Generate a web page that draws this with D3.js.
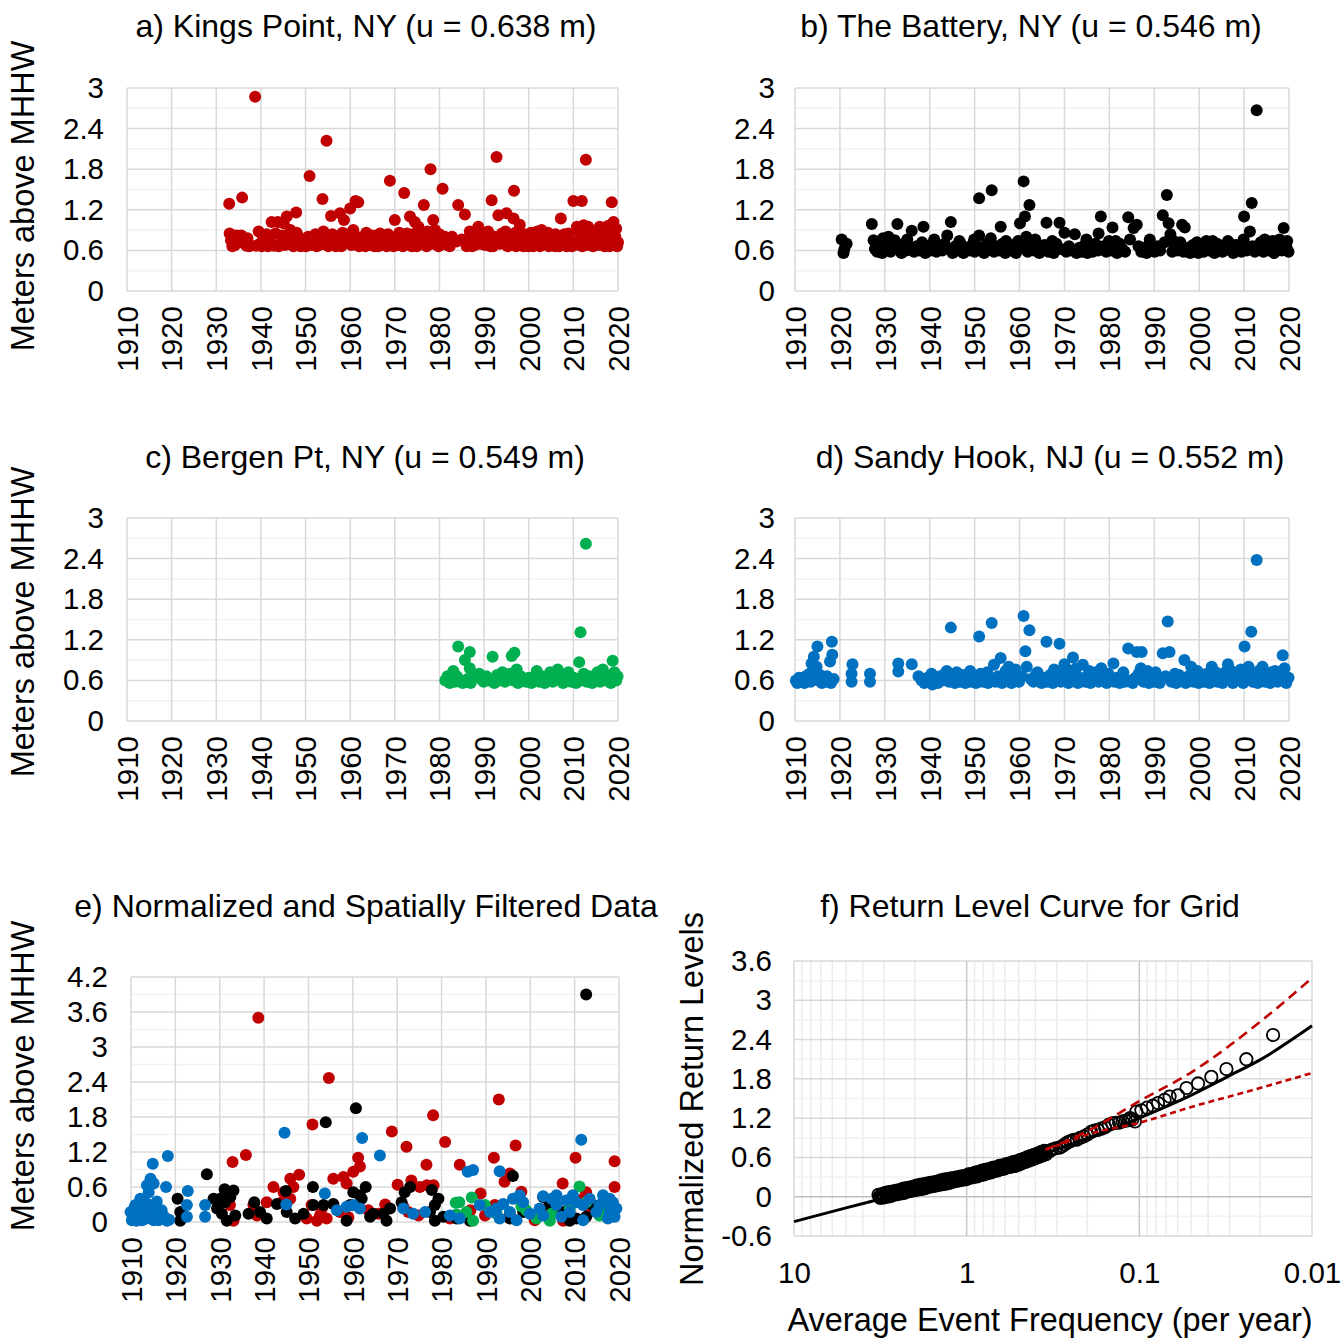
<!DOCTYPE html>
<html><head><meta charset="utf-8">
<script src="https://cdn.jsdelivr.net/npm/d3@7"></script>
<style>
body{margin:0;background:#fff}
svg{display:block}
text{font-family:"Liberation Sans",Arial,Helvetica,sans-serif;fill:#000}
.tick text{font-size:29.5px}
.ttl{font-size:32px}
.axt{font-size:32.5px}
</style>
</head><body>
<svg id="chart" width="1343" height="1338"></svg>
<script>
// ---------------- tick labels ----------------
const yearTicks = [1910,1920,1930,1940,1950,1960,1970,1980,1990,2000,2010,2020];
const meterTicks = [0,0.6,1.2,1.8,2.4,3];
const meterMinor = [0.3,0.9,1.5,2.1,2.7];
const normTicks = [0,0.6,1.2,1.8,2.4,3,3.6,4.2];
const normMinor = [0.3,0.9,1.5,2.1,2.7,3.3,3.9];
const rlTicks = [-0.6,0,0.6,1.2,1.8,2.4,3,3.6];
const rlMinor = [-0.3,0.3,0.9,1.5,2.1,2.7,3.3];
const freqTicks = [10,1,0.1,0.01];

// ---------------- a) Kings Point (year, m above MHHW) ----------------
const kingsPoint = [
[1933.0,0.85],[1932.9,1.29],[1933.3,0.75],[1933.6,0.66],[1933.9,0.70],[1934.2,0.68],
[1935.8,1.38],[1935.6,0.82],[1936.3,0.70],[1936.8,0.67],[1937.4,0.66],
[1938.7,2.87],[1939.5,0.88],[1940.5,0.80],[1938.9,0.67],[1940.2,0.66],[1941.0,0.72],[1939.8,0.70],[1941.6,0.66],
[1942.4,1.02],[1943.8,1.02],[1943.3,0.85],[1944.5,0.71],[1942.9,0.67],[1944.0,0.66],[1942.0,0.78],
[1945.8,1.10],[1945.1,1.00],[1946.6,0.90],[1946.2,0.70],[1947.3,0.66],[1945.4,0.68],[1946.9,0.78],
[1947.9,1.16],[1948.4,0.80],[1948.9,0.66],[1949.6,0.70],[1949.1,0.75],[1950.1,0.66],
[1950.9,1.70],[1950.6,0.80],[1951.4,0.68],[1952.5,0.66],[1952.0,0.72],[1951.8,0.74],[1953.0,0.68],
[1953.8,1.36],[1954.7,2.22],[1953.4,0.80],[1954.4,0.70],[1955.1,0.66],[1955.7,1.11],[1955.6,0.74],
[1956.3,0.70],[1957.0,0.80],[1957.7,1.15],[1958.6,1.05],[1958.0,0.66],[1959.0,0.72],[1956.8,0.66],[1957.5,0.72],[1959.4,0.78],
[1960.0,1.22],[1961.2,1.33],[1961.8,1.31],[1960.7,0.90],[1961.5,0.80],[1962.0,0.66],[1962.8,0.70],[1960.3,0.68],[1962.4,0.76],
[1963.0,0.80],[1963.8,0.70],[1964.6,0.75],[1965.4,0.66],[1963.4,0.66],[1964.2,0.68],[1965.9,0.72],
[1966.7,0.85],[1967.4,0.75],[1968.2,0.66],[1966.3,0.66],[1967.0,0.70],[1967.9,0.78],
[1968.9,1.63],[1970.0,1.05],[1970.4,0.80],[1969.7,0.66],[1971.3,0.75],[1969.2,0.72],[1970.8,0.68],
[1972.1,1.45],[1972.7,0.85],[1973.4,1.10],[1973.8,0.66],[1974.2,0.75],[1971.8,0.66],[1972.4,0.70],[1973.1,0.78],
[1974.5,1.02],[1975.3,0.95],[1976.0,0.80],[1976.5,1.27],[1977.1,0.66],[1974.9,0.66],[1975.7,0.72],[1976.8,0.70],
[1978.0,1.80],[1978.6,1.05],[1979.0,0.90],[1978.3,0.70],[1979.4,0.75],[1977.6,0.78],[1979.8,0.66],
[1980.7,1.51],[1981.2,0.80],[1982.3,0.66],[1980.3,0.70],[1981.7,0.68],
[1983.8,0.73],[1984.2,1.27],[1985.7,1.13],[1986.1,0.66],
[1986.8,0.88],[1988.7,0.95],[1989.1,0.70],[1988.0,0.75],[1986.4,0.72],[1987.3,0.66],[1987.9,0.68],
[1990.6,0.80],[1991.4,0.66],[1991.7,1.34],[1989.8,0.74],[1990.2,0.68],[1991.0,0.72],
[1992.8,1.98],[1993.2,1.12],[1992.4,0.80],[1993.6,0.70],[1994.0,0.85],[1992.0,0.66],[1994.4,0.72],
[1995.0,1.15],[1996.6,1.07],[1996.7,1.48],[1995.8,0.75],[1997.2,0.66],[1995.3,0.66],[1996.2,0.72],[1997.7,0.78],
[1998.0,0.98],[1998.4,0.80],[1999.2,0.70],[1999.9,0.66],[1998.8,0.66],[1999.6,0.76],
[2000.3,0.72],[2000.8,0.78],[2001.0,0.66],[2001.6,0.72],[2002.1,0.80],[2002.5,0.66],[2002.9,0.90],[2003.3,0.70],[2003.8,0.78],
[2004.0,0.70],[2004.5,0.66],[2004.9,0.74],[2005.2,0.80],[2005.6,0.70],[2005.9,0.66],[2006.3,0.72],[2006.8,0.66],
[2007.2,1.07],[2007.0,0.80],[2007.5,0.74],[2007.8,0.70],[2008.2,0.78],[2008.5,0.66],[2008.9,0.85],[2009.3,0.72],[2009.7,0.66],
[2010.0,1.33],[2011.9,1.33],[2010.4,0.68],[2010.8,0.95],[2011.1,0.70],[2011.5,0.76],[2012.0,0.66],[2012.3,0.97],[2012.8,1.94],
[2013.0,0.68],[2013.3,0.95],[2013.7,0.75],[2014.0,0.80],[2014.4,0.66],[2014.8,0.72],[2015.2,0.80],[2015.6,0.68],
[2015.9,0.95],[2016.3,0.78],[2016.7,0.70],[2017.0,0.66],[2017.3,0.80],[2017.7,0.96],[2018.1,0.66],[2018.4,0.74],
[2018.6,1.31],[2019.0,1.02],[2019.2,0.70],[2019.4,0.80],[2019.8,0.66],[2020.0,0.72],
[1934.6,0.82],[1937.0,0.78],[1941.3,0.84],[1944.8,0.82],[1948.0,0.86],[1952.2,0.84],[1954.0,0.88],[1956.0,0.84],[1958.3,0.86],[1959.7,0.84],[1963.6,0.86],[1965.0,0.82],[1968.5,0.84],[1971.0,0.86],[1974.0,0.84],[1975.0,0.82],[1977.3,0.88],[1980.0,0.84],[1982.8,0.80],[1985.0,0.76],[1987.6,0.84],[1989.4,0.86],[1990.9,0.88],[1993.9,0.78],[1994.8,0.88],[1997.0,0.86],[1999.0,0.84],[2000.5,0.86],[2001.9,0.88],[2003.5,0.84],[2004.3,0.86],[2006.0,0.84],[2006.6,0.80],[2008.0,0.84],[2009.0,0.78],[2011.3,0.86],[2012.6,0.82],[2014.2,0.86],[2015.4,0.88],[2016.0,0.84],[2017.5,0.88],[2018.8,0.86],[2019.6,0.92]
];

// ---------------- b) The Battery ----------------
const battery = [
[1920.4,0.76],[1921.5,0.70],[1920.8,0.56],[1921.0,0.62],
[1927.1,0.99],[1927.5,0.75],[1927.8,0.62],[1928.3,0.58],[1928.9,0.70],[1929.4,0.56],[1929.6,0.78],[1930.2,0.62],[1930.8,0.80],[1931.3,0.58],[1931.6,0.68],[1932.2,0.75],[1932.8,0.99],[1933.2,0.62],[1933.7,0.56],[1934.3,0.70],[1934.8,0.60],[1935.3,0.65],[1936.0,0.89],[1936.5,0.58],[1937.1,0.66],[1937.7,0.60],[1938.6,0.95],[1938.3,0.72],[1939.0,0.56],[1939.6,0.66],[1940.3,0.60],[1940.9,0.72],[1941.5,0.58],[1942.2,0.66],[1942.8,0.60],[1943.3,0.70],[1943.9,0.82],[1944.7,1.02],[1944.4,0.62],[1945.1,0.56],[1945.7,0.66],[1946.3,0.60],[1946.9,0.70],[1947.5,0.56],[1948.1,0.64],[1948.8,0.60],[1949.4,0.68],[1950.0,0.58],[1950.6,0.66],[1951.0,1.37],[1951.0,0.82],[1951.5,0.60],[1952.1,0.56],[1952.7,0.70],[1953.3,0.62],[1953.8,1.49],[1953.6,0.78],[1954.3,0.58],[1954.9,0.66],[1955.8,0.95],[1955.5,0.60],[1956.2,0.70],[1956.8,0.56],[1957.4,0.64],[1958.0,0.60],[1958.6,0.68],[1959.2,0.56],[1959.7,0.74],
[1960.1,1.00],[1960.9,1.62],[1961.2,1.10],[1962.2,1.27],[1960.5,0.66],[1961.5,0.80],[1961.8,0.58],[1962.6,0.66],[1963.2,0.60],[1963.8,0.70],[1964.4,0.56],[1965.0,0.62],[1965.6,0.68],[1966.0,1.01],[1966.4,0.58],[1967.0,0.64],[1967.6,0.56],[1968.2,0.70],[1968.9,1.01],[1969.2,0.62],[1970.0,0.86],[1970.4,0.58],[1971.0,0.66],[1971.6,0.60],[1972.3,0.84],[1972.7,0.56],[1973.3,0.64],[1973.9,0.58],[1974.5,0.68],[1975.1,0.56],[1975.7,0.62],[1976.3,0.58],[1976.9,0.70],[1977.5,0.60],[1977.6,0.85],[1978.1,1.10],[1978.7,0.66],[1979.3,0.58],[1979.9,0.74],
[1980.7,0.94],[1980.4,0.60],[1981.1,0.66],[1981.7,0.56],[1982.3,0.70],[1982.9,0.62],[1983.5,0.58],[1984.2,1.09],[1984.6,0.76],[1985.4,0.93],[1986.1,0.98],[1986.5,0.66],[1987.1,0.58],[1987.7,0.64],[1988.3,0.56],[1988.9,0.70],[1989.5,0.62],[1990.1,0.58],[1990.7,0.66],[1991.3,0.60],[1991.9,1.12],[1992.8,1.42],[1993.2,1.00],[1992.3,0.72],[1993.6,0.84],[1994.0,0.58],[1994.6,0.66],[1995.2,0.60],[1995.8,0.72],[1996.2,0.98],[1996.8,0.94],[1996.5,0.58],[1997.4,0.64],[1998.0,0.56],[1998.6,0.68],[1999.2,0.60],[1999.8,0.56],
[2000.4,0.64],[2001.0,0.58],[2001.6,0.74],[2002.2,0.60],[2002.8,0.66],[2003.4,0.56],[2004.0,0.70],[2004.6,0.62],[2005.2,0.58],[2005.8,0.66],[2006.4,0.74],[2007.0,0.60],[2007.6,0.56],[2008.2,0.68],[2008.8,0.62],[2009.4,0.58],[2010.0,1.10],[2010.0,0.70],[2010.6,0.60],[2011.3,0.88],[2011.7,1.30],[2011.9,0.66],[2012.8,2.67],[2012.4,0.58],[2013.1,0.64],[2013.7,0.72],[2014.3,0.58],[2014.9,0.66],[2015.5,0.60],[2016.1,0.70],[2016.7,0.56],[2017.3,0.64],[2017.9,0.76],[2018.4,0.60],[2018.8,0.93],[2019.4,0.66],[2019.9,0.58],
[1929.9,0.72],[1935.0,0.76],[1941.0,0.76],[1946.6,0.74],[1949.9,0.76],[1957.0,0.74],[1963.5,0.76],[1967.3,0.74],[1974.9,0.76],[1981.4,0.74],[1989.0,0.76],[1994.3,0.74],[1999.5,0.72],[2003.0,0.74],[2006.9,0.70],[2009.9,0.76],[2014.6,0.76],[2016.4,0.74],[2019.6,0.74]
];

// ---------------- c) Bergen Pt ----------------
const bergenPt = [
[1981.3,0.60],[1981.8,0.66],[1982.3,0.56],[1982.8,0.62],[1983.1,0.74],[1983.5,0.58],[1983.9,0.66],[1984.2,1.10],[1984.7,0.60],[1985.2,0.56],[1985.7,0.90],[1986.3,0.62],[1986.8,1.02],[1986.8,0.78],[1987.0,0.56],[1987.5,0.66],
[1988.9,0.70],[1989.3,0.62],[1989.9,0.58],[1990.5,0.66],[1991.1,0.60],[1991.9,0.95],[1992.3,0.56],[1992.9,0.68],[1993.5,0.60],[1994.1,0.72],[1994.7,0.58],[1995.3,0.64],[1995.8,0.70],[1996.2,0.96],[1996.8,1.01],[1996.5,0.60],[1997.3,0.76],[1997.6,0.56],[1998.2,0.66],[1998.8,0.60],[1999.4,0.58],
[2000.0,0.64],[2000.6,0.56],[2001.2,0.60],[2001.8,0.74],[2002.4,0.58],[2003.0,0.66],[2003.6,0.56],[2004.2,0.62],[2004.8,0.72],[2005.4,0.58],[2006.0,0.64],[2006.5,0.76],[2007.1,0.60],[2007.7,0.56],[2008.3,0.66],[2008.9,0.72],[2009.5,0.58],[2010.1,0.64],[2010.6,0.56],[2011.3,0.87],[2011.6,1.31],[2011.8,0.60],[2012.8,2.62],[2012.3,0.70],[2013.0,0.58],[2013.6,0.66],[2014.2,0.56],[2014.8,0.62],[2015.4,0.72],[2016.0,0.58],[2016.6,0.76],[2017.2,0.60],[2017.8,0.66],[2018.4,0.56],[2018.8,0.89],[2019.2,0.72],[2019.6,0.60],[2019.9,0.66]
];

// ---------------- d) Sandy Hook ----------------
const sandyHook = [
[1910.2,0.60],[1910.5,0.56],[1910.9,0.64],[1911.3,0.58],[1911.7,0.62],[1912.1,0.56],[1912.4,0.66],[1912.8,0.60],[1913.2,0.70],[1913.5,0.58],[1913.7,0.85],[1914.0,0.64],[1914.2,0.95],[1914.5,0.74],[1914.8,0.80],[1915.0,1.10],[1915.2,0.60],[1915.6,0.68],[1916.0,0.56],[1916.3,0.64],[1916.7,0.58],[1917.1,0.66],[1917.5,0.60],[1917.8,0.88],[1918.0,0.56],[1918.2,1.17],[1918.3,0.98],[1918.6,0.62],
[1922.8,0.84],[1922.6,0.70],[1922.6,0.58],[1926.7,0.70],[1926.7,0.58],
[1933.0,0.85],[1933.0,0.73],[1936.0,0.84],
[1937.5,0.66],[1938.2,0.60],[1938.8,0.56],[1939.5,0.64],[1940.1,0.58],[1940.6,0.54],[1941.2,0.62],[1941.8,0.56],[1942.3,0.66],[1942.9,0.60],[1943.4,0.70],[1943.8,0.74],[1944.7,1.38],[1944.3,0.58],[1945.0,0.64],[1945.6,0.56],[1946.2,0.62],[1946.7,0.58],[1947.3,0.68],[1947.9,0.56],[1948.5,0.62],[1949.1,0.58],[1949.7,0.66],
[1950.3,0.56],[1950.8,0.62],[1951.0,1.25],[1951.3,0.70],[1951.8,0.58],[1952.4,0.64],[1953.0,0.56],[1953.8,1.45],[1953.6,0.62],[1954.3,0.83],[1954.6,0.58],[1955.2,0.66],[1955.8,0.93],[1956.1,0.56],[1956.6,0.64],[1957.2,0.60],[1957.6,0.80],[1958.2,0.56],[1958.8,0.70],[1959.4,0.62],[1959.9,0.58],
[1960.5,0.66],[1960.9,1.55],[1961.3,1.03],[1961.6,0.80],[1962.2,1.34],[1962.5,0.62],[1963.1,0.58],[1963.7,0.70],[1964.3,0.60],[1964.9,0.56],[1965.5,0.64],[1966.0,1.17],[1966.2,0.58],[1966.8,0.68],[1967.4,0.56],[1968.0,0.62],[1968.9,1.14],[1969.2,0.58],
[1970.0,0.84],[1970.3,0.66],[1970.9,0.56],[1971.4,0.74],[1971.9,0.94],[1972.3,0.60],[1972.6,0.78],[1973.0,0.56],[1973.5,0.64],[1974.1,0.83],[1974.6,0.58],[1975.2,0.66],[1975.8,0.56],[1976.4,0.62],[1977.0,0.72],[1977.6,0.58],[1978.2,0.78],[1978.8,0.62],[1979.4,0.56],
[1980.0,0.66],[1980.9,0.85],[1981.1,0.58],[1981.7,0.64],[1982.3,0.56],[1982.9,0.62],[1983.5,0.58],[1984.2,1.07],[1984.6,0.60],[1985.2,0.56],[1985.8,0.64],[1986.1,1.02],[1987.2,1.02],[1987.0,0.78],[1986.5,0.70],[1987.6,0.58],[1988.2,0.62],[1988.8,0.56],[1989.4,0.66],
[1990.0,0.58],[1990.6,0.62],[1991.2,0.56],[1991.9,1.00],[1993.0,1.47],[1993.4,1.02],[1992.5,0.66],[1993.8,0.58],[1994.3,0.62],[1994.9,0.56],[1995.5,0.68],[1996.1,0.60],[1996.7,0.90],[1997.0,0.56],[1997.6,0.66],[1998.2,0.80],[1998.7,0.58],[1999.3,0.64],[1999.9,0.56],
[2000.5,0.62],[2001.1,0.58],[2001.7,0.70],[2002.3,0.56],[2002.8,0.80],[2003.4,0.62],[2004.0,0.58],[2004.6,0.66],[2005.2,0.56],[2005.8,0.72],[2006.4,0.84],[2006.9,0.60],[2007.5,0.56],[2008.1,0.66],[2008.7,0.60],[2009.3,0.76],[2009.8,0.56],
[2010.1,1.10],[2010.5,0.64],[2011.0,0.80],[2011.6,1.32],[2011.9,0.58],[2012.8,2.38],[2012.4,0.70],[2013.0,0.56],[2013.6,0.64],[2014.1,0.80],[2014.6,0.58],[2015.2,0.68],[2015.8,0.56],[2016.4,0.62],[2016.9,0.74],[2017.5,0.58],[2018.1,0.66],[2018.6,0.97],[2019.0,0.78],[2019.4,0.56],[2019.9,0.64],
[1940.4,0.70],[1946.0,0.72],[1949.0,0.74],[1952.8,0.72],[1956.9,0.74],[1959.1,0.76],[1964.0,0.72],[1967.7,0.76],[1969.8,0.72],[1975.5,0.74],[1979.8,0.70],[1983.1,0.72],[1988.5,0.74],[1990.3,0.72],[1994.6,0.70],[1999.6,0.74],[2003.7,0.72],[2007.2,0.74],[2013.3,0.74],[2016.1,0.72],[2018.4,0.74]
];

// ---------------- e) normalized, spatially filtered ----------------
const normKings = [
[1938.7,3.50],[1954.6,2.47],[1950.9,1.67],[1935.9,1.15],[1932.9,1.03],
[1961.2,1.10],[1961.6,0.95],[1960.1,0.86],[1957.9,0.77],[1958.6,0.66],[1955.6,0.74],
[1947.9,0.81],[1945.9,0.74],[1946.6,0.60],[1942.1,0.60],[1944.4,0.51],[1945.9,0.40],[1944.0,0.34],
[1940.6,0.34],[1937.6,0.29],[1938.4,0.11],[1932.3,0.29],[1933.1,0.02],[1952.6,0.11],[1951.9,0.02],[1949.6,0.06],[1954.1,0.06],[1957.1,0.17],[1950.7,0.29],[1953.0,0.23],
[1968.8,1.55],[1972.1,1.29],[1978.1,1.83],[1980.8,1.37],[1976.6,0.98],[1970.1,0.64],[1973.2,0.71],[1975.1,0.60],[1976.7,0.63],[1978.2,0.63],[1967.3,0.30],[1965.8,0.14],[1974.8,0.11],[1971.4,0.26],[1972.5,0.17],
[1984.1,0.98],[1992.9,2.10],[1996.7,1.31],[1991.8,1.10],[1994.2,0.69],[1995.4,0.83],[1988.8,0.49],[1998.0,0.52],[1997.6,0.40],
[2007.3,0.66],[2010.2,1.10],[2019.0,1.04],[2019.0,0.60],[2012.6,0.51],[2011.9,0.40],
[1981.9,0.06],[1989.8,0.11],[1992.0,0.29],[1995.4,0.13],[2001.0,0.03],[2003.6,0.23],[2007.4,0.02],[2013.4,0.17],[2015.6,0.23],[2017.5,0.35],[2009.0,0.30],[1986.5,0.20],[1963.5,0.20],[1959.0,0.08]
];
const normBattery = [
[2012.6,3.90],[1960.7,1.95],[1953.9,1.71],[1927.1,0.82],[1951.0,0.60],[1944.9,0.53],[1996.1,0.79],
[1931.1,0.56],[1933.1,0.54],[1930.1,0.40],[1932.4,0.43],[1931.2,0.34],[1928.6,0.40],[1929.4,0.23],[1930.5,0.14],[1933.5,0.11],[1931.6,0.02],[1920.5,0.40],[1921.1,0.17],[1921.1,0.02],
[1937.8,0.34],[1936.5,0.14],[1939.1,0.17],[1940.6,0.06],[1942.9,0.31],[1945.1,0.17],[1947.0,0.06],[1948.9,0.14],[1951.1,0.29],[1953.4,0.29],[1955.6,0.31],[1959.4,0.29],[1960.1,0.51],[1961.6,0.46],[1962.9,0.60],[1962.0,0.40],[1963.9,0.09],[1958.6,0.02],
[1972.9,0.60],[1971.7,0.51],[1971.0,0.34],[1968.4,0.23],[1966.9,0.14],[1964.6,0.14],[1967.6,0.02],[1977.8,0.55],[1979.3,0.40],[1978.5,0.29],[1977.4,0.17],[1978.5,0.02],[1980.4,0.09],
[2002.9,0.43],[2004.4,0.29],[2010.4,0.06],[2014.1,0.29],[2016.4,0.17],[2018.6,0.11],[1983.4,0.06],[1986.4,0.02],[1995.4,0.06],[1998.4,0.17],[2007.4,0.17],[2012.6,0.09],[2008.9,0.02]
];
const normBergen = [
[1983.2,0.33],[1984.0,0.34],[1986.8,0.42],[1989.8,0.29],[1985.6,0.17],[1983.4,0.13],[1987.1,0.02],[1998.0,0.27],[1999.1,0.20],[2004.8,0.14],[2011.1,0.61],[2012.6,0.34],[2008.9,0.23],[2004.4,0.02],[1992.4,0.14],[2001.4,0.06],[2015.6,0.11],[2017.5,0.20]
];
const normSandy = [
[1918.3,1.13],[1914.9,1.00],[1914.4,0.74],[1915.1,0.66],[1913.6,0.63],[1917.9,0.60],[1914.0,0.51],[1912.1,0.40],[1913.2,0.34],[1911.0,0.29],[1914.7,0.29],[1915.9,0.23],[1909.9,0.17],[1911.7,0.17],[1913.6,0.14],[1916.6,0.14],[1917.7,0.06],[1910.2,0.03],[1912.5,0.03],[1915.1,0.03],[1918.1,0.02],
[1910.5,0.08],[1911.2,0.02],[1911.8,0.10],[1912.6,0.20],[1913.1,0.05],[1914.0,0.22],[1914.6,0.08],[1915.5,0.15],[1916.2,0.03],[1916.9,0.20],[1917.4,0.10],[1918.6,0.04],[1910.8,0.25],[1912.9,0.30],[1915.8,0.35],
[1922.8,0.53],[1922.6,0.29],[1922.6,0.09],[1926.7,0.29],[1926.7,0.09],
[1944.6,1.53],[1962.1,1.44],[1953.7,0.49],[1945.0,0.30],[1956.4,0.20],[1958.6,0.26],[1960.1,0.29],[1961.6,0.23],
[1966.1,1.14],[1985.9,0.86],[1987.1,0.89],[1993.1,0.87],[2011.5,1.41],[2002.9,0.44],[2005.9,0.46],[2009.6,0.46],[2016.4,0.46],[2017.9,0.40],
[1971.4,0.23],[1973.6,0.14],[1976.3,0.17],[1981.9,0.11],[1984.1,0.06],[1990.9,0.17],[1993.9,0.31],[1997.6,0.46],[1999.9,0.14],[2002.9,0.11],[2005.9,0.29],[2008.9,0.17],[2011.9,0.29],[2014.9,0.17],[2017.5,0.06],[2019.0,0.09],
[2016.4,0.34],[2018.6,0.34],[1996.1,0.40],[1998.4,0.34],[1995.4,0.17],[1988.6,0.29],[1992.4,0.23],[2004.8,0.40],[2008.1,0.37],[2010.4,0.34],[2013.4,0.40],[2015.6,0.29],[2017.9,0.17],[2019.4,0.23],[2002.1,0.23],[2007.0,0.09],[2011.9,0.03],[1996.9,0.03],[1993.1,0.06]
];

// ---------------- f) return level curve (frequency per yr, normalized level) ----------------
const empiricalDense = [
[3.24,0.03],[3.16,-0.02],[3.09,0.04],[3.02,-0.01],[2.95,0.06],[2.88,0.00],[2.82,0.07],[2.75,0.01],[2.69,0.08],[2.63,0.03],[2.57,0.09],[2.51,0.04],[2.45,0.10],[2.40,0.05],[2.34,0.12],[2.29,0.06],[2.24,0.13],[2.19,0.08],[2.14,0.14],[2.09,0.09],[2.04,0.15],[2.00,0.10],
[1.95,0.17],[1.91,0.11],[1.86,0.18],[1.82,0.12],[1.78,0.19],[1.74,0.13],[1.70,0.20],[1.66,0.15],[1.62,0.21],[1.58,0.16],[1.55,0.22],[1.51,0.17],[1.48,0.23],[1.45,0.18],[1.41,0.25],[1.38,0.19],[1.35,0.26],[1.32,0.20],[1.29,0.27],[1.26,0.21],[1.23,0.28],[1.20,0.23],[1.17,0.29],[1.15,0.24],[1.12,0.30],[1.10,0.25],[1.07,0.31],[1.05,0.26],[1.02,0.32],[1.00,0.27],
[0.977,0.34],[0.955,0.29],[0.933,0.35],[0.912,0.30],[0.891,0.37],[0.871,0.31],[0.851,0.38],[0.832,0.33],[0.813,0.40],[0.794,0.34],[0.776,0.41],[0.759,0.36],[0.741,0.42],[0.724,0.37],[0.708,0.44],[0.692,0.39],[0.676,0.45],[0.661,0.40],[0.646,0.47],[0.631,0.42],[0.617,0.48],[0.603,0.43],[0.589,0.50],[0.575,0.45],[0.562,0.51],[0.550,0.46],[0.537,0.53],[0.525,0.47],[0.513,0.54],[0.500,0.49],
[0.490,0.56],[0.479,0.51],[0.468,0.58],[0.457,0.53],[0.447,0.60],[0.437,0.55],[0.427,0.62],[0.417,0.57],[0.407,0.64],[0.398,0.59],[0.389,0.66],[0.380,0.61],[0.372,0.68],[0.363,0.63],[0.355,0.70],[0.347,0.65]
];
const empiricalMid = [
[3.20,0.00],[3.13,0.01],[3.05,0.02],[2.99,0.02],[2.92,0.03],[2.85,0.03],[2.79,0.04],[2.72,0.05],[2.66,0.05],[2.60,0.06],[2.54,0.06],[2.48,0.07],[2.43,0.08],[2.37,0.08],[2.32,0.09],[2.26,0.10],[2.21,0.10],[2.16,0.11],[2.11,0.11],[2.07,0.12],[2.02,0.13],
[1.97,0.13],[1.93,0.14],[1.88,0.14],[1.84,0.15],[1.80,0.16],[1.76,0.16],[1.72,0.17],[1.68,0.17],[1.64,0.18],[1.60,0.18],[1.57,0.19],[1.53,0.20],[1.50,0.20],[1.46,0.21],[1.43,0.21],[1.40,0.22],[1.36,0.22],[1.33,0.23],[1.30,0.23],[1.27,0.24],[1.24,0.25],[1.22,0.25],[1.19,0.26],[1.16,0.26],[1.13,0.27],[1.11,0.27],[1.08,0.28],[1.06,0.29],[1.03,0.29],[1.01,0.30],
[0.989,0.30],[0.966,0.31],[0.944,0.32],[0.923,0.33],[0.902,0.33],[0.881,0.34],[0.861,0.35],[0.841,0.35],[0.822,0.36],[0.804,0.37],[0.785,0.38],[0.767,0.38],[0.750,0.39],[0.733,0.40],[0.716,0.41],[0.700,0.41],[0.684,0.42],[0.668,0.43],[0.653,0.44],[0.638,0.44],[0.624,0.45],[0.610,0.46],[0.596,0.46],[0.582,0.47],[0.569,0.48],[0.556,0.49],[0.543,0.49],[0.531,0.50],[0.519,0.51],[0.507,0.52],
[0.495,0.53],[0.484,0.54],[0.473,0.55],[0.462,0.56],[0.452,0.57],[0.442,0.58],[0.431,0.59],[0.422,0.60],[0.412,0.61],[0.403,0.62],[0.394,0.63],[0.385,0.64],[0.376,0.65],[0.367,0.66],[0.359,0.67],[0.351,0.68]
];
const empiricalUpper = [
[0.33,0.70],[0.32,0.72],[0.305,0.74],[0.29,0.75],[0.28,0.77],[0.27,0.80],[0.26,0.83],[0.25,0.85],[0.24,0.87],[0.23,0.87],[0.22,0.90],[0.21,0.92],[0.2,0.95],[0.19,0.99],[0.182,1.01],[0.174,1.02],[0.166,1.04],[0.158,1.06],[0.15,1.10],[0.143,1.12],[0.137,1.13],[0.131,1.13],[0.125,1.15],[0.12,1.16],[0.115,1.17],[0.11,1.18],
[0.113,1.20],[0.106,1.15],[0.104,1.30],[0.0973,1.32],[0.0903,1.36],[0.0834,1.39],[0.078,1.43],[0.0714,1.48],[0.0668,1.53],[0.0597,1.55],[0.0533,1.66],[0.0457,1.73],[0.0383,1.83],[0.0313,1.95],[0.024,2.10],[0.0168,2.47]
];
const fitCurve = [[10,-0.38],[5,-0.17],[3,-0.02],[2,0.10],[1,0.31],[0.5,0.52],[0.3,0.72],[0.2,0.89],[0.1,1.20],[0.05,1.55],[0.03,1.85],[0.02,2.09],[0.01,2.61]];
const upperBound = [[0.35,0.72],[0.3,0.79],[0.2,1.00],[0.1,1.46],[0.05,1.90],[0.02,2.67],[0.01,3.34]];
const lowerBound = [[0.35,0.72],[0.3,0.78],[0.2,0.95],[0.1,1.13],[0.05,1.37],[0.02,1.66],[0.01,1.89]];

// ---------------- drawing ----------------
const svg = d3.select("#chart");
const MAJOR = "#d9d9d9", MINOR = "#f2f2f2";

function addText(x, y, txt, cls, anchor, rot) {
  const t = svg.append("text").attr("class", cls).attr("text-anchor", anchor || "middle").text(txt);
  if (rot) t.attr("transform", `translate(${x},${y}) rotate(-90)`).attr("dy", "0.35em");
  else t.attr("x", x).attr("y", y);
  return t;
}

function scatterPanel(c) {
  const x = d3.scaleLinear().domain([1910, 2020]).range([c.x0, c.x1]);
  const y = d3.scaleLinear().domain([0, c.yTicks[c.yTicks.length - 1]]).range([c.y1, c.y0]);
  const g = svg.append("g");
  g.selectAll(".mn").data(c.minor).join("line")
    .attr("x1", c.x0).attr("x2", c.x1).attr("y1", d => y(d)).attr("y2", d => y(d))
    .attr("stroke", MINOR).attr("stroke-width", 1.5);
  g.selectAll(".vx").data(yearTicks).join("line")
    .attr("x1", d => x(d)).attr("x2", d => x(d)).attr("y1", c.y0).attr("y2", c.y1)
    .attr("stroke", MAJOR).attr("stroke-width", 1.5);
  g.selectAll(".mj").data(c.yTicks).join("line")
    .attr("x1", c.x0).attr("x2", c.x1).attr("y1", d => y(d)).attr("y2", d => y(d))
    .attr("stroke", MAJOR).attr("stroke-width", 1.5);
  c.series.forEach(s => {
    g.append("g").selectAll("circle").data(s.data).join("circle")
      .attr("cx", d => x(d[0])).attr("cy", d => y(d[1])).attr("r", c.r || 6)
      .attr("fill", s.color);
  });
  const ay = svg.append("g").attr("transform", `translate(${c.x0},0)`)
    .call(d3.axisLeft(y).tickValues(c.yTicks).tickSize(0).tickPadding(c.pad || 23).tickFormat(d => String(d)));
  ay.select(".domain").remove();
  ay.attr("font-size", null).attr("font-family", null);
  const ax = svg.append("g").attr("transform", `translate(0,${c.y1})`)
    .call(d3.axisBottom(x).tickValues(yearTicks).tickSize(0).tickFormat(d => String(d)));
  ax.select(".domain").remove();
  ax.attr("font-size", null).attr("font-family", null);
  ax.selectAll("text").attr("transform", "rotate(-90)").attr("text-anchor", "end")
    .attr("x", -15).attr("y", 0).attr("dy", "0.35em");
  addText(c.tx, c.ty, c.title, "ttl");
  if (c.ylab) addText(c.ylx, c.yly, "Meters above MHHW", "axt", "middle", true);
}

scatterPanel({x0:127, x1:618, y0:88, y1:291, yTicks:meterTicks, minor:meterMinor,
  series:[{data:kingsPoint, color:"#c00000"}], title:"a) Kings Point, NY (u = 0.638 m)", tx:366, ty:37,
  ylab:true, ylx:23, yly:196});
scatterPanel({x0:795, x1:1289, y0:88, y1:291, yTicks:meterTicks, minor:meterMinor, pad:20,
  series:[{data:battery, color:"#000000"}], title:"b) The Battery, NY (u = 0.546 m)", tx:1031, ty:37});
scatterPanel({x0:127, x1:618, y0:518, y1:721, yTicks:meterTicks, minor:meterMinor,
  series:[{data:bergenPt, color:"#00b050"}], title:"c) Bergen Pt, NY (u = 0.549 m)", tx:365, ty:468,
  ylab:true, ylx:23, yly:622});
scatterPanel({x0:795, x1:1289, y0:518, y1:721, yTicks:meterTicks, minor:meterMinor, pad:20,
  series:[{data:sandyHook, color:"#0070c0"}], title:"d) Sandy Hook, NJ (u = 0.552 m)", tx:1050, ty:468});
scatterPanel({x0:131, x1:619, y0:977, y1:1222, yTicks:normTicks, minor:normMinor, r:6,
  series:[{data:normKings, color:"#c00000"},{data:normBattery, color:"#000000"},{data:normBergen, color:"#00b050"},{data:normSandy, color:"#0070c0"}],
  title:"e) Normalized and Spatially Filtered Data", tx:366, ty:917, ylab:true, ylx:23, yly:1076});

// panel f
(function(){
  const x0 = 794, x1 = 1312, y0 = 961, y1 = 1236;
  const x = d3.scaleLog().domain([10, 0.01]).range([x0, x1]);
  const y = d3.scaleLinear().domain([-0.6, 3.6]).range([y1, y0]);
  const g = svg.append("g");
  const minorV = [];
  [1, 0.1, 0.01].forEach(dec => { for (let k = 2; k <= 9; k++) minorV.push(dec * k); });
  g.selectAll(".mv").data(minorV).join("line")
    .attr("x1", d => x(d)).attr("x2", d => x(d)).attr("y1", y0).attr("y2", y1)
    .attr("stroke", "#ebebeb").attr("stroke-width", 1.5);
  g.selectAll(".mn").data(rlMinor).join("line")
    .attr("x1", x0).attr("x2", x1).attr("y1", d => y(d)).attr("y2", d => y(d))
    .attr("stroke", MINOR).attr("stroke-width", 1.5);
  g.selectAll(".mj").data(rlTicks).join("line")
    .attr("x1", x0).attr("x2", x1).attr("y1", d => y(d)).attr("y2", d => y(d))
    .attr("stroke", d => d === 0 ? "#bfbfbf" : MAJOR).attr("stroke-width", 1.5);
  g.selectAll(".vj").data(freqTicks).join("line")
    .attr("x1", d => x(d)).attr("x2", d => x(d)).attr("y1", y0).attr("y2", y1)
    .attr("stroke", d => (d === 1 || d === 0.1) ? "#c8c8c8" : MAJOR).attr("stroke-width", 1.5);

  const line = d3.line().x(d => x(d[0])).y(d => y(d[1])).curve(d3.curveMonotoneX);
  g.append("path").datum(fitCurve).attr("d", line).attr("fill", "none")
    .attr("stroke", "#000").attr("stroke-width", 3);
  g.append("g").selectAll("circle").data(empiricalDense.concat(empiricalMid, empiricalUpper)).join("circle")
    .attr("cx", d => x(d[0])).attr("cy", d => y(d[1])).attr("r", 6.2)
    .attr("fill", "none").attr("stroke", "#000").attr("stroke-width", 1.8);
  g.append("path").datum(upperBound).attr("d", line).attr("fill", "none")
    .attr("stroke", "#c00000").attr("stroke-width", 2.6).attr("stroke-dasharray", "10,6");
  g.append("path").datum(lowerBound).attr("d", line).attr("fill", "none")
    .attr("stroke", "#c00000").attr("stroke-width", 2.6).attr("stroke-dasharray", "6,4");

  const ay = svg.append("g").attr("transform", `translate(${x0},0)`)
    .call(d3.axisLeft(y).tickValues(rlTicks).tickSize(0).tickPadding(22).tickFormat(d => String(d)));
  ay.select(".domain").remove();
  ay.attr("font-size", null).attr("font-family", null);
  const ax = svg.append("g").attr("transform", `translate(0,${y1})`)
    .call(d3.axisBottom(x).tickValues(freqTicks).tickSize(0).tickPadding(26).tickFormat(d => String(d)));
  ax.select(".domain").remove();
  ax.attr("font-size", null).attr("font-family", null);

  addText(1030, 917, "f) Return Level Curve for Grid", "ttl");
  addText(692, 1099, "Normalized Return Levels", "axt", "middle", true);
  addText(1050, 1331, "Average Event Frequency (per year)", "axt");
})();
</script>
</body></html>
